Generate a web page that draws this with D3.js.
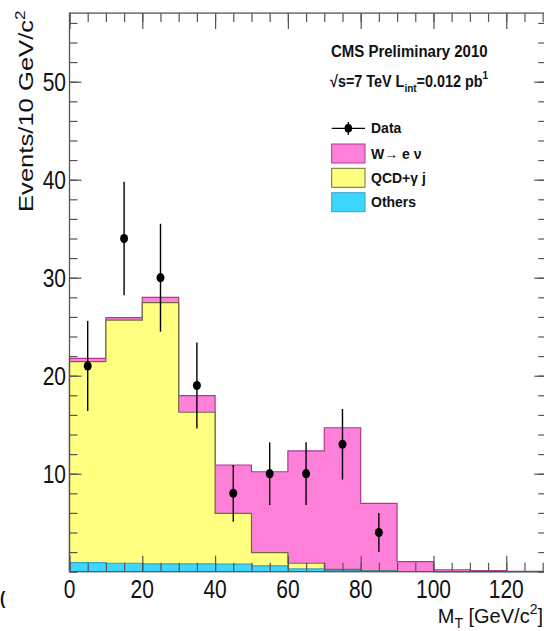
<!DOCTYPE html>
<html><head><meta charset="utf-8">
<script src="https://cdn.jsdelivr.net/npm/d3@7"></script>
<style>html,body{margin:0;padding:0;background:#fff}svg{display:block}</style>
</head><body>
<script>
// ---- data ----
const binEdges = [0,10,20,30,40,50,60,70,80,90,100,110,120,130];
const others = [0.92,0.86,0.80,0.80,0.78,0.60,0.28,0.10,0.05,0.02,0,0,0];
const qcd    = [20.51,24.82,26.65,15.47,5.18,1.34,0.58,0.14,0.05,0,0,0,0];
const wenu   = [0.33,0.24,0.55,1.69,4.93,8.26,11.46,14.45,6.88,1.0,0.2,0.12,0.03];
const dataX  = [5,15,25,35,45,55,65,75,85];
const dataY  = [21,34,30,19,8,10,10,13,4];
const dataErr= [4.6,5.8,5.5,4.4,2.9,3.2,3.2,3.6,2.0];
const xTickLabels = [0,20,40,60,80,100,120];
const yTickLabels = [10,20,30,40,50];
const xMinorTicks = d3.range(0,131,5);
const yMinorTicks = d3.range(0,57,2);
const legendItems = [
  {label:"W\u2192 e \u03bd", fill:"#ff80d9", stroke:"#b0388e"},
  {label:"QCD+\u03b3 j", fill:"#ffff80", stroke:"#6e6e3c"},
  {label:"Others", fill:"#3dd6fc", stroke:"#3aa2c4"}
];

const W = 544, H = 631;
const svg = d3.select("body").append("svg").attr("width",W).attr("height",H);
svg.append("rect").attr("width",W).attr("height",H).attr("fill","#fff");

const x = d3.scaleLinear().domain([0,131]).range([69.5,546.3]);
const y = d3.scaleLinear().domain([0,57]).range([571.7,13.1]);

const FONT = "'Liberation Sans', Arial, Helvetica, sans-serif";

// cumulative stacks
const c1 = others.slice();
const c2 = others.map((v,i)=>v+qcd[i]);
const c3 = c2.map((v,i)=>v+wenu[i]);

function stepPts(vals){
  const pts=[];
  vals.forEach((v,i)=>{pts.push({x:binEdges[i],v});pts.push({x:binEdges[i+1],v});});
  return pts;
}
const area = d3.area().x(d=>x(d.x)).y0(y(0)).y1(d=>y(d.v));
const line = d3.line().x(d=>x(d.x)).y(d=>y(d.v));

const plot = svg.append("g");
[[c3,"#ff80d9","#b0388e"],[c2,"#ffff80","#6e6e3c"],[c1,"#3dd6fc","#3aa2c4"]].forEach(([vals,f,s])=>{
  const pts = stepPts(vals);
  plot.append("path").attr("d",area(pts)).attr("fill",f);
  const outline = [{x:binEdges[0],v:0}].concat(pts).concat([{x:binEdges[binEdges.length-1],v:0}]);
  plot.append("path").attr("d",line(outline)).attr("fill","none").attr("stroke",s).attr("stroke-width",1.2);
});

// axes ticks
const axCol = "#555";
function styleAxis(g){g.select(".domain").remove();g.selectAll("line").attr("stroke",axCol).attr("stroke-width",1.2);g.selectAll("text").remove();}
svg.append("g").attr("transform",`translate(0,${y(0)})`).call(d3.axisBottom(x).tickValues(xMinorTicks).tickSize(-9).tickSizeOuter(0)).call(styleAxis);
svg.append("g").attr("transform",`translate(0,${y(0)})`).call(d3.axisBottom(x).tickValues(xTickLabels).tickSize(-16).tickSizeOuter(0)).call(styleAxis);
svg.append("g").attr("transform",`translate(0,${y(57)})`).call(d3.axisTop(x).tickValues(xMinorTicks).tickSize(-9).tickSizeOuter(0)).call(styleAxis);
svg.append("g").attr("transform",`translate(0,${y(57)})`).call(d3.axisTop(x).tickValues(xTickLabels).tickSize(-16).tickSizeOuter(0)).call(styleAxis);
svg.append("g").attr("transform",`translate(${x(0)},0)`).call(d3.axisLeft(y).tickValues(yMinorTicks).tickSize(-8).tickSizeOuter(0)).call(styleAxis);
svg.append("g").attr("transform",`translate(${x(0)},0)`).call(d3.axisLeft(y).tickValues(yTickLabels).tickSize(-12).tickSizeOuter(0)).call(styleAxis);
svg.append("g").attr("transform",`translate(${x(131)},0)`).call(d3.axisRight(y).tickValues(yMinorTicks).tickSize(-8).tickSizeOuter(0)).call(styleAxis);
svg.append("g").attr("transform",`translate(${x(131)},0)`).call(d3.axisRight(y).tickValues(yTickLabels).tickSize(-12).tickSizeOuter(0)).call(styleAxis);
// frame
svg.append("rect").attr("x",x(0)).attr("y",y(57)).attr("width",x(131)-x(0)).attr("height",y(0)-y(57))
  .attr("fill","none").attr("stroke",axCol).attr("stroke-width",1.3);

// tick labels
const TS = 21, SY = 1.2;
xTickLabels.forEach(v=>{
  svg.append("text").attr("transform",`translate(${x(v)},598) scale(1,${SY})`)
    .attr("text-anchor","middle").attr("font-family",FONT).attr("font-size",TS).attr("fill","#111").text(v);
});
yTickLabels.forEach(v=>{
  svg.append("text").attr("transform",`translate(66,${y(v)+9.5}) scale(1,${SY})`)
    .attr("text-anchor","end").attr("font-family",FONT).attr("font-size",TS).attr("fill","#111").text(v);
});

// data points
const dg = svg.append("g");
dataX.forEach((xv,i)=>{
  dg.append("line").attr("x1",x(xv)).attr("x2",x(xv)).attr("y1",y(dataY[i]-dataErr[i])).attr("y2",y(dataY[i]+dataErr[i]))
    .attr("stroke","#000").attr("stroke-width",1.4);
  dg.append("ellipse").attr("cx",x(xv)).attr("cy",y(dataY[i])).attr("rx",4).attr("ry",4.6).attr("fill","#000");
});

// axis titles
const yt = svg.append("text").attr("transform","translate(32.5,212) rotate(-90) scale(1.22,1)")
  .attr("font-family",FONT).attr("font-size",21).attr("fill","#111");
yt.append("tspan").text("Events/10 GeV/c");
yt.append("tspan").attr("dy",-8).attr("font-size",14).text("2");

const xt = svg.append("text").attr("transform","translate(543,623)").attr("text-anchor","end")
  .attr("font-family",FONT).attr("font-size",20).attr("fill","#111");
xt.append("tspan").text("M");
xt.append("tspan").attr("dy",5).attr("font-size",14).text("T");
xt.append("tspan").attr("dy",-5).text(" [GeV/c");
xt.append("tspan").attr("dy",-9).attr("font-size",14).text("2");
xt.append("tspan").attr("dy",9).text("]");

svg.append("text").attr("transform","translate(0,604) scale(1,1.2)").attr("font-family",FONT)
  .attr("font-size",16).attr("font-weight","bold").attr("fill","#111").text("(");

// legend texts
svg.append("text").attr("transform","translate(331,57.3) scale(1,1.12)").attr("font-family",FONT)
  .attr("font-size",15).attr("font-weight","bold").attr("fill","#111").text("CMS Preliminary 2010");
const l2 = svg.append("text").attr("transform","translate(330,87.3) scale(1,1.15)").attr("font-family",FONT)
  .attr("font-size",14.4).attr("font-weight","bold").attr("fill","#111");
l2.append("tspan").text("\u221as=7 TeV L");
l2.append("tspan").attr("dy",4).attr("font-size",10).text("int");
l2.append("tspan").attr("dy",-4).text("=0.012 pb");
l2.append("tspan").attr("dy",-7).attr("font-size",10).text("1");

// legend entries
const lg = svg.append("g");
lg.append("line").attr("x1",331.7).attr("x2",365).attr("y1",128.3).attr("y2",128.3).attr("stroke","#000").attr("stroke-width",1.3);
lg.append("line").attr("x1",348.3).attr("x2",348.3).attr("y1",122).attr("y2",135).attr("stroke","#000").attr("stroke-width",1.3);
lg.append("ellipse").attr("cx",348.3).attr("cy",128.3).attr("rx",3.8).attr("ry",4.3).attr("fill","#000");
lg.append("text").attr("transform","translate(371,133) scale(1,1.1)").attr("font-family",FONT)
  .attr("font-size",14).attr("font-weight","bold").attr("fill","#111").text("Data");
const boxY = [144,168.3,192.7];
legendItems.forEach((it,i)=>{
  lg.append("rect").attr("x",331.7).attr("y",boxY[i]).attr("width",33.3).attr("height",19)
    .attr("fill",it.fill).attr("stroke",it.stroke).attr("stroke-width",1);
  lg.append("text").attr("transform",`translate(371,${boxY[i]+14.5}) scale(1,1.1)`).attr("font-family",FONT)
    .attr("font-size",14).attr("font-weight","bold").attr("fill","#111").text(it.label);
});
</script>
</body></html>
